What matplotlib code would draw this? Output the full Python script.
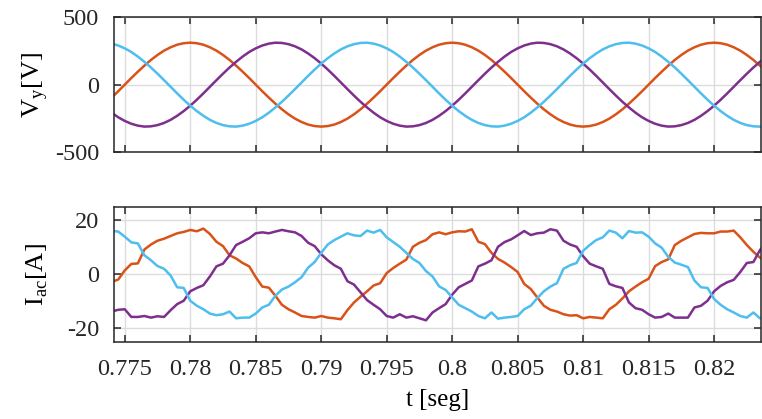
import numpy as np
import matplotlib
matplotlib.use("Agg")
import matplotlib.pyplot as plt
from matplotlib.ticker import FuncFormatter

plt.rcParams["font.family"] = "Liberation Serif"
plt.rcParams["mathtext.fontset"] = "custom"
plt.rcParams["mathtext.rm"] = "Liberation Serif"
plt.rcParams["axes.unicode_minus"] = False

# sample clock, 0.5 ms steps
t = np.linspace(0.774, 0.824, 101)

# phase voltages [V]
va = [-96, -49, 0, 49, 96, 141, 183, 220, 252, 277, 296, 307, 311, 307, 296, 277, 252, 220, 183, 141,
      96, 49, 0, -49, -96, -141, -183, -220, -252, -277, -296, -307, -311, -307, -296, -277, -252, -220, -183, -141,
      -96, -49, 0, 49, 96, 141, 183, 220, 252, 277, 296, 307, 311, 307, 296, 277, 252, 220, 183, 141,
      96, 49, 0, -49, -96, -141, -183, -220, -252, -277, -296, -307, -311, -307, -296, -277, -252, -220, -183, -141,
      -96, -49, 0, 49, 96, 141, 183, 220, 252, 277, 296, 307, 311, 307, 296, 277, 252, 220, 183, 141, 96]
vb = [-208, -242, -269, -290, -304, -311, -309, -300, -284, -261, -231, -196, -156, -112, -65, -16, 33, 81, 127, 169,
      208, 242, 269, 290, 304, 311, 309, 300, 284, 261, 231, 196, 156, 112, 65, 16, -33, -81, -127, -169,
      -208, -242, -269, -290, -304, -311, -309, -300, -284, -261, -231, -196, -156, -112, -65, -16, 33, 81, 127, 169,
      208, 242, 269, 290, 304, 311, 309, 300, 284, 261, 231, 196, 156, 112, 65, 16, -33, -81, -127, -169,
      -208, -242, -269, -290, -304, -311, -309, -300, -284, -261, -231, -196, -156, -112, -65, -16, 33, 81, 127, 169, 208]
vc = [304, 290, 269, 242, 208, 169, 127, 81, 33, -16, -65, -112, -156, -196, -231, -261, -284, -300, -309, -311,
      -304, -290, -269, -242, -208, -169, -127, -81, -33, 16, 65, 112, 156, 196, 231, 261, 284, 300, 309, 311,
      304, 290, 269, 242, 208, 169, 127, 81, 33, -16, -65, -112, -156, -196, -231, -261, -284, -300, -309, -311,
      -304, -290, -269, -242, -208, -169, -127, -81, -33, 16, 65, 112, 156, 196, 231, 261, 284, 300, 309, 311,
      304, 290, 269, 242, 208, 169, 127, 81, 33, -16, -65, -112, -156, -196, -231, -261, -284, -300, -309, -311, -304]

# line currents [A]
ia = [-2.75, -1.9, 1.5, 3.9, 4.1, 9.25, 11.1, 12.5, 13.25, 14.25,
      15.25, 15.75, 16.5, 16.0, 17.0, 15.0, 12.1, 10.5, 7.1, 5.9,
      4.25, 3.0, -1.0, -4.5, -4.9, -7.9, -11.25, -12.9, -14.1, -15.4,
      -15.75, -16.0, -15.4, -16.0, -16.25, -16.6, -13.25, -10.4, -8.25, -6.25,
      -4.1, -3.25, 0.5, 2.4, 4.0, 5.5, 10.25, 11.75, 12.75, 14.9,
      15.6, 14.9, 15.6, 16.0, 15.9, 16.75, 12.1, 11.25, 8.0, 5.75,
      4.4, 2.75, 0.9, -3.5, -5.4, -8.5, -11.6, -13.1, -13.75, -14.75,
      -15.25, -15.1, -16.25, -15.75, -16.0, -16.25, -12.9, -11.25, -8.9, -6.25,
      -4.5, -2.9, -1.6, 3.1, 4.6, 5.6, 10.9, 12.5, 13.75, 15.0,
      15.4, 15.25, 15.25, 15.9, 15.9, 16.25, 13.75, 10.9, 8.4, 6.25, 4.6]
ib = [-13.75, -13.1, -12.9, -15.75, -15.75, -15.4, -16.0, -15.5, -15.75, -13.25,
      -11.0, -9.75, -6.25, -5.0, -4.0, -0.75, 3.0, 4.0, 7.1, 10.9,
      12.1, 13.4, 15.25, 15.6, 15.25, 15.9, 16.5, 16.0, 15.6, 14.25,
      11.75, 10.5, 7.5, 5.25, 3.4, 2.1, -2.5, -3.75, -6.6, -9.5,
      -11.25, -12.9, -15.4, -16.0, -14.75, -16.0, -15.5, -16.25, -17.0, -14.1,
      -12.5, -11.0, -7.5, -4.75, -3.5, -2.25, 3.0, 4.0, 5.25, 10.25,
      12.0, 13.0, 14.5, 16.1, 14.6, 15.25, 15.5, 16.75, 16.25, 12.5,
      11.1, 10.25, 6.75, 4.0, 3.0, 2.1, -3.5, -4.4, -5.0, -10.4,
      -12.5, -13.1, -14.75, -16.0, -15.75, -14.5, -16.0, -16.0, -16.0, -12.25,
      -11.6, -9.75, -6.25, -4.25, -2.9, -2.0, 0.9, 4.25, 4.6, 9.0, 12.1]
ic = [16.1, 15.9, 14.0, 11.9, 11.5, 7.1, 5.25, 3.1, 2.1, -0.4,
      -4.75, -5.0, -9.75, -11.6, -12.9, -14.5, -15.1, -14.75, -13.75, -16.25,
      -16.0, -16.0, -14.5, -12.25, -11.25, -7.9, -5.6, -4.5, -2.9, -1.0,
      2.5, 4.6, 8.0, 11.1, 12.75, 14.0, 15.25, 14.5, 14.25, 16.25,
      15.5, 16.5, 13.75, 12.0, 10.25, 8.0, 5.75, 4.25, 1.25, -0.75,
      -4.4, -5.75, -8.5, -11.25, -12.5, -13.75, -15.4, -16.25, -14.1, -16.4,
      -16.0, -15.75, -15.4, -12.9, -11.6, -8.75, -6.25, -4.5, -3.25, 2.1,
      3.4, 4.25, 8.75, 10.9, 12.75, 13.75, 16.25, 15.5, 13.4, 16.1,
      15.5, 15.6, 14.0, 11.5, 9.9, 6.5, 4.4, 3.6, 2.75, -2.25,
      -4.75, -5.0, -9.1, -11.25, -12.9, -14.1, -15.4, -16.0, -14.1, -16.25, -16.25]

xticks = [0.775, 0.78, 0.785, 0.79, 0.795, 0.8, 0.805, 0.81, 0.815, 0.82]
C_A, C_B, C_C = "#D95319", "#7E2F8E", "#4DBEEE"

fig = plt.figure(figsize=(7.62, 4.19), dpi=100)
ax1 = fig.add_axes([0.150, 0.637, 0.849, 0.322])
ax2 = fig.add_axes([0.150, 0.184, 0.849, 0.322])

for ax in (ax1, ax2):
    ax.set_xlim(0.7742, 0.8236)
    ax.set_xticks(xticks)
    ax.grid(True, color="#dcdcdc", linewidth=1.0)
    ax.set_axisbelow(True)
    ax.tick_params(direction="in", length=5, width=1.1, colors="#262626",
                   labelsize=17.5, top=True, right=True)
    ax.tick_params(axis="y", pad=11)
    ax.tick_params(axis="x", pad=12.5)
    for s in ax.spines.values():
        s.set_color("#262626")
        s.set_linewidth(1.1)

ax1.plot(t, va, color=C_A, lw=1.8)
ax1.plot(t, vb, color=C_B, lw=1.8)
ax1.plot(t, vc, color=C_C, lw=1.8)
ax1.set_ylim(-500, 500)
ax1.set_yticks([-500, 0, 500])
ax1.tick_params(labelbottom=False)
ax1.set_ylabel(r"V$_\mathrm{y}$[V]", fontsize=19)
ax1.yaxis.set_label_coords(-0.10, 0.5)

ax2.plot(t, ia, color=C_A, lw=1.8)
ax2.plot(t, ib, color=C_B, lw=1.8)
ax2.plot(t, ic, color=C_C, lw=1.8)
ax2.set_ylim(-25, 25)
ax2.set_yticks([-20, 0, 20])
ax2.xaxis.set_major_formatter(FuncFormatter(lambda v, _: f"{v:g}"))
ax2.set_ylabel(r"I$_\mathrm{ac}$[A]", fontsize=19)
ax2.yaxis.set_label_coords(-0.10, 0.5)
ax2.set_xlabel("t [seg]", fontsize=18, labelpad=6)

fig.savefig("out.png", dpi=100)
